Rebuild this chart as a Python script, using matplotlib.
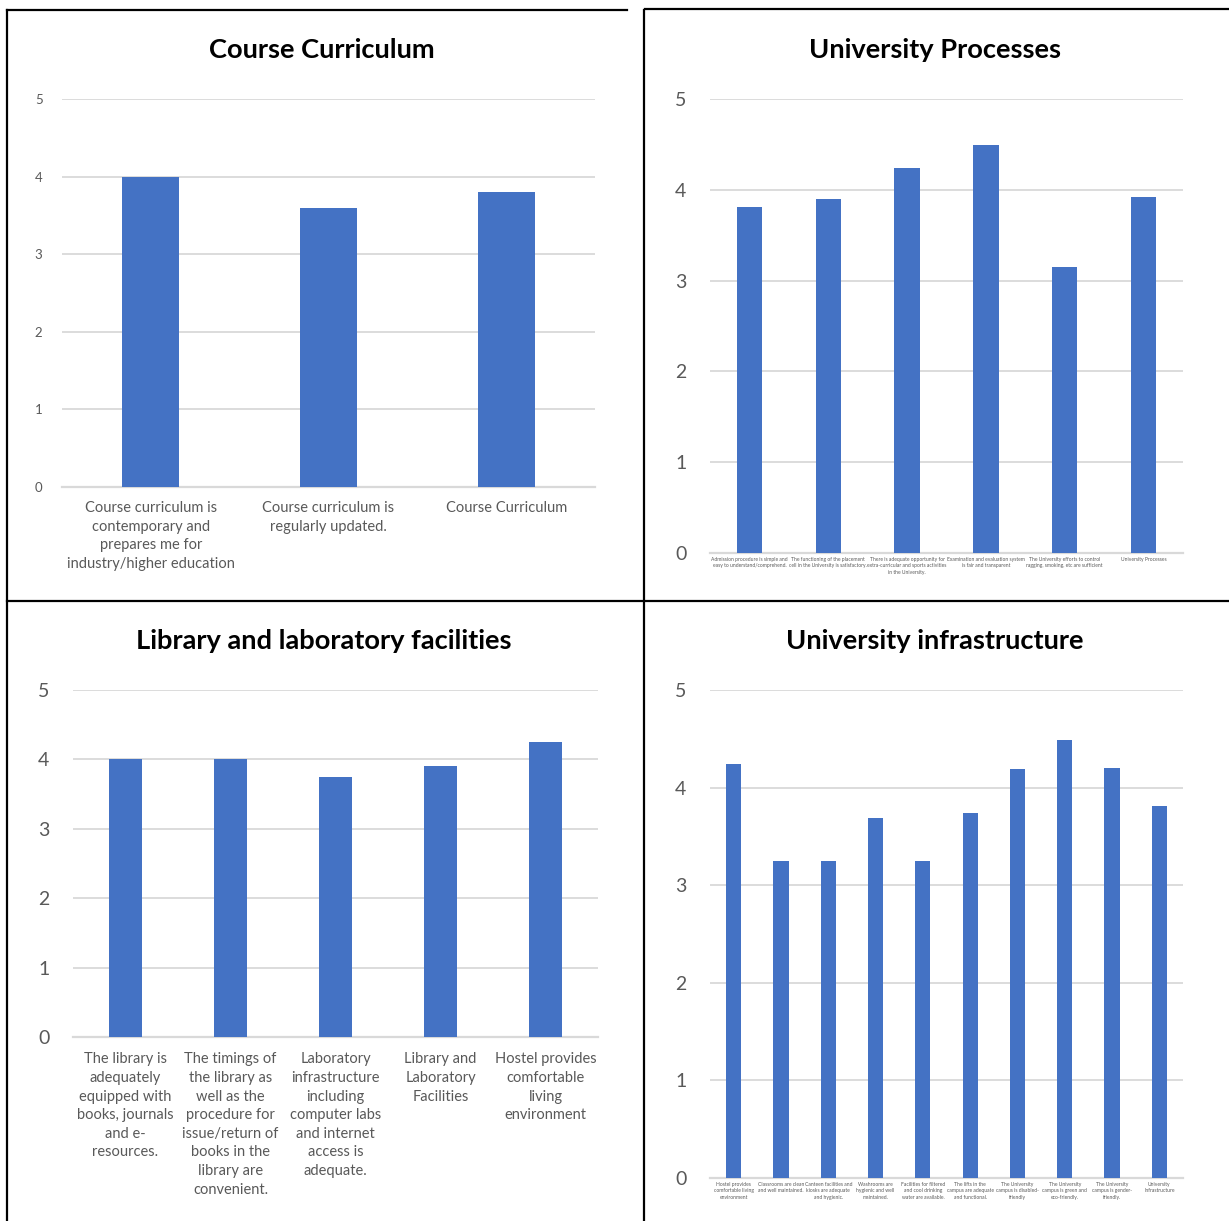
import matplotlib.pyplot as plt
import numpy as np
from matplotlib.lines import Line2D

plt.rcParams['font.family'] = ['Lato', 'DejaVu Sans']

# data
cc_labels = ["Course curriculum is\ncontemporary and\nprepares me for\nindustry/higher education",
             "Course curriculum is\nregularly updated.",
             "Course Curriculum"]
cc_values = [4.0, 3.6, 3.8]

up_labels = ["Admission procedure is simple and\neasy to understand/comprehend.",
             "The functioning of the placement\ncell in the University is satisfactory.",
             "There is adequate opportunity for\nextra-curricular and sports activities\nin the University.",
             "Examination and evaluation system\nis fair and transparent",
             "The University efforts to control\nragging, smoking, etc are sufficient",
             "University Processes"]
up_values = [3.81, 3.90, 4.24, 4.49, 3.15, 3.92]

lib_labels = ["The library is\nadequately\nequipped with\nbooks, journals\nand e-\nresources.",
              "The timings of\nthe library as\nwell as the\nprocedure for\nissue/return of\nbooks in the\nlibrary are\nconvenient.",
              "Laboratory\ninfrastructure\nincluding\ncomputer labs\nand internet\naccess is\nadequate.",
              "Library and\nLaboratory\nFacilities",
              "Hostel provides\ncomfortable\nliving\nenvironment"]
lib_values = [4.0, 4.0, 3.75, 3.9, 4.25]

inf_labels = ["Hostel provides\ncomfortable living\nenvironment",
              "Classrooms are clean\nand well maintained.",
              "Canteen facilities and\nkiosks are adequate\nand hygienic.",
              "Washrooms are\nhygienic and well\nmaintained.",
              "Facilities for filtered\nand cool drinking\nwater are available.",
              "The lifts in the\ncampus are adequate\nand functional.",
              "The University\ncampus is disabled-\nfriendly",
              "The University\ncampus is green and\neco-friendly.",
              "The University\ncampus is gender-\nfriendly.",
              "University\nInfrastructure"]
inf_values = [4.24, 3.25, 3.25, 3.69, 3.25, 3.74, 4.19, 4.49, 4.2, 3.81]

W, H = 1229, 1221
fig = plt.figure(figsize=(W / 100, H / 100), dpi=100)

BLUE = "#4472C4"
GRID = "#D9D9D9"
TXT = "#595959"


def panel(rect, title, labels, values, title_xy, ytick_fs, ypad, xtick_fs, xpad, ls):
    x0, y0, x1, y1 = rect  # pixel coords (top-left origin)
    ax = fig.add_axes([x0 / W, 1 - y1 / H, (x1 - x0) / W, (y1 - y0) / H])
    x = np.arange(len(values))
    ax.bar(x, values, width=0.32, color=BLUE, zorder=3)
    ax.set_xlim(-0.5, len(values) - 0.5)
    ax.set_ylim(0, 5)
    ax.set_yticks(range(6))
    ax.set_xticks(x)
    ax.set_xticklabels(labels, fontsize=xtick_fs, color=TXT, linespacing=ls)
    ax.tick_params(axis='y', length=0, labelsize=ytick_fs, labelcolor=TXT, pad=ypad)
    ax.tick_params(axis='x', length=0, pad=xpad)
    ax.grid(axis='y', color=GRID, linewidth=1.3, zorder=0)
    for s in ['top', 'left', 'right']:
        ax.spines[s].set_visible(False)
    ax.spines['bottom'].set_color(GRID)
    ax.spines['bottom'].set_linewidth(1.6)
    fig.text(title_xy[0] / W, 1 - title_xy[1] / H, title, ha='center', va='center',
             fontsize=19.6, fontweight='bold', color='black')
    return ax


panel((62, 99, 595, 487), "Course Curriculum", cc_labels, cc_values, (322, 50), 9.5, 14, 10.5, 10, 1.42)
panel((710, 99, 1183, 553), "University Processes", up_labels, up_values, (935, 50), 14, 17, 3.6, 3, 1.3)
panel((73, 690, 598, 1037), "Library and laboratory facilities", lib_labels, lib_values, (324, 641), 14, 17, 10.5, 11, 1.42)
panel((710, 690, 1183, 1178), "University infrastructure", inf_labels, inf_values, (935, 641), 14, 17, 3.6, 3, 1.3)

# table borders
def hline(y, xa, xb):
    fig.add_artist(Line2D([xa / W, xb / W], [1 - y / H, 1 - y / H], color='black', lw=1.6))

def vline(x, ya, yb):
    fig.add_artist(Line2D([x / W, x / W], [1 - ya / H, 1 - yb / H], color='black', lw=1.6))

hline(10, 7, 627)
hline(9, 645, 1229)
hline(601, 7, 1229)
vline(7, 10, 1221)
vline(644, 10, 1221)

fig.savefig("out.png", dpi=100)
